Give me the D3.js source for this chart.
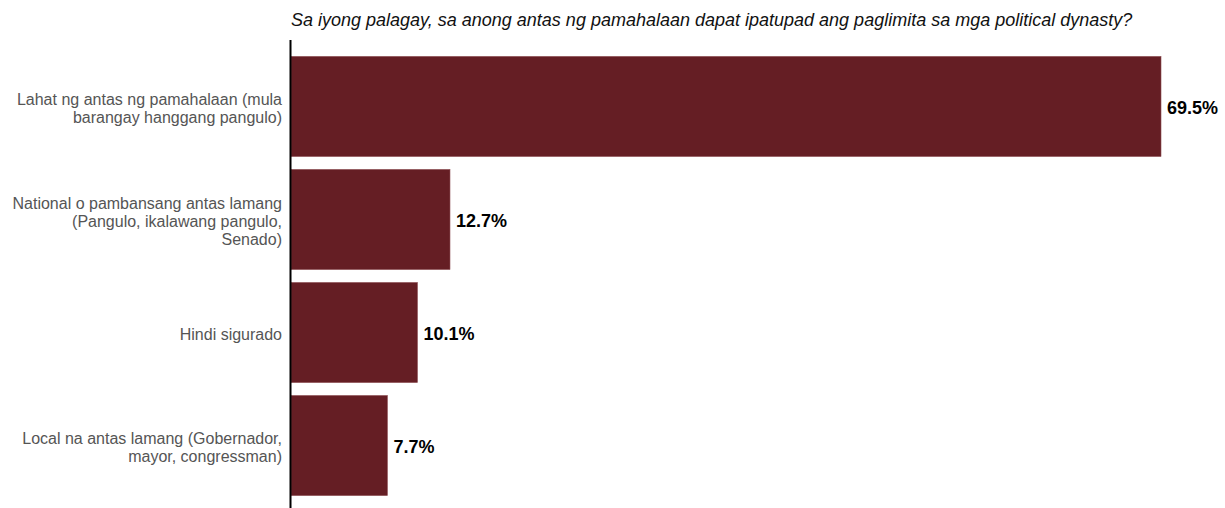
<!DOCTYPE html>
<html>
<head>
<meta charset="utf-8">
<script src="https://cdn.jsdelivr.net/npm/d3@7"></script>
<style>
  html, body { margin: 0; padding: 0; background: #fff; }
  svg { display: block; font-family: "Liberation Sans", Arial, sans-serif; }
</style>
</head>
<body>
<svg id="chart" width="1225" height="508"></svg>
<script>
const title = "Sa iyong palagay, sa anong antas ng pamahalaan dapat ipatupad ang paglimita sa mga political dynasty?";
const categories = [
  ["Lahat ng antas ng pamahalaan (mula", "barangay hanggang pangulo)"],
  ["National o pambansang antas lamang", "(Pangulo, ikalawang pangulo,", "Senado)"],
  ["Hindi sigurado"],
  ["Local na antas lamang (Gobernador,", "mayor, congressman)"]
];
const values = [69.5, 12.7, 10.1, 7.7];
const valueLabels = ["69.5%", "12.7%", "10.1%", "7.7%"];

const svg = d3.select("#chart");
const left = 291;
const x = d3.scaleLinear().domain([0, 69.5]).range([left, 1161]);
const y = d3.scaleBand()
  .domain(d3.range(categories.length))
  .range([44, 508])
  .paddingInner(0.115)
  .paddingOuter(0.11);

// title
svg.append("text")
  .attr("x", left)
  .attr("y", 26)
  .attr("font-size", 18)
  .attr("font-style", "italic")
  .attr("fill", "#111")
  .text(title);

// bars
svg.selectAll("rect.bar")
  .data(values)
  .join("rect")
  .attr("class", "bar")
  .attr("x", x(0))
  .attr("y", (d, i) => y(i))
  .attr("width", d => x(d) - x(0))
  .attr("height", y.bandwidth())
  .attr("fill", "#651e24")
  .attr("stroke", "#8a4a4f")
  .attr("stroke-width", 0.6);

// value labels
svg.selectAll("text.val")
  .data(values)
  .join("text")
  .attr("class", "val")
  .attr("x", d => x(d) + 6)
  .attr("y", (d, i) => y(i) + y.bandwidth() / 2)
  .attr("dy", "0.4em")
  .attr("font-size", 18)
  .attr("font-weight", "bold")
  .attr("fill", "#000")
  .text((d, i) => valueLabels[i]);

// category labels
const lineH = 18;
categories.forEach((lines, i) => {
  const cy = y(i) + y.bandwidth() / 2;
  const t = svg.append("text")
    .attr("text-anchor", "end")
    .attr("font-size", 16)
    .attr("fill", "#555");
  lines.forEach((ln, j) => {
    t.append("tspan")
      .attr("x", 282)
      .attr("y", cy + (j - (lines.length - 1) / 2) * lineH)
      .attr("dy", "0.45em")
      .text(ln);
  });
});

// axis line
svg.append("line")
  .attr("x1", left - 0.5).attr("x2", left - 0.5)
  .attr("y1", 40).attr("y2", 508)
  .attr("stroke", "#000")
  .attr("stroke-width", 2);
</script>
</body>
</html>
